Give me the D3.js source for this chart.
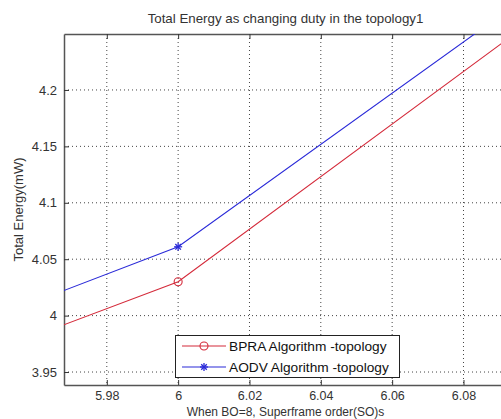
<!DOCTYPE html>
<html><head><meta charset="utf-8">
<script src="https://cdn.jsdelivr.net/npm/d3@7"></script>
<style>
html,body{margin:0;padding:0;background:#fff;}
svg{display:block;font-family:"Liberation Sans",Arial,sans-serif;}
</style></head>
<body>
<svg id="c" width="501" height="419"></svg>
<script>
const so = [5, 6, 7];
const bpra = [2.840, 4.030, 6.360];
const aodv = [2.851, 4.061, 6.330];
const xTicks = [5.98, 6.00, 6.02, 6.04, 6.06, 6.08];
const yTicks = [3.95, 4.00, 4.05, 4.10, 4.15, 4.20];
const seriesNames = ["BPRA Algorithm -topology", "AODV Algorithm -topology"];

const svg = d3.select("#c");
const L = 64, T = 34, R = 507, B = 385;
const x = d3.scaleLinear().domain([5.968, 6.0922]).range([L, R]);
const y = d3.scaleLinear().domain([3.9385, 4.2496]).range([B, T]);
const txt = "#333";

svg.append("rect").attr("x",0).attr("y",0).attr("width",501).attr("height",419).attr("fill","#fff");

svg.append("defs").append("clipPath").attr("id","clip")
  .append("rect").attr("x",L).attr("y",T).attr("width",R-L).attr("height",B-T);

// grid
const g = svg.append("g");
xTicks.forEach(v=>{
  g.append("line").attr("x1",x(v)).attr("x2",x(v)).attr("y1",T).attr("y2",B)
   .attr("stroke","#444").attr("stroke-width",1).attr("stroke-dasharray","1,3");
});
yTicks.forEach(v=>{
  g.append("line").attr("x1",L).attr("x2",R).attr("y1",y(v)).attr("y2",y(v))
   .attr("stroke","#444").attr("stroke-width",1).attr("stroke-dasharray","1,3");
});

// axes
const xa = svg.append("g").attr("transform",`translate(0,${B})`)
  .call(d3.axisBottom(x).tickValues(xTicks).tickSizeInner(-5).tickSizeOuter(0).tickPadding(6)
  .tickFormat(d=>d3.format("")(+d.toFixed(2))));
const xt = svg.append("g").attr("transform",`translate(0,${T})`)
  .call(d3.axisTop(x).tickValues(xTicks).tickSizeInner(-5).tickSizeOuter(0).tickFormat(""));
const ya = svg.append("g").attr("transform",`translate(${L},0)`)
  .call(d3.axisLeft(y).tickValues(yTicks).tickSizeInner(-5).tickSizeOuter(0).tickPadding(7)
  .tickFormat(d=>d3.format("")(+d.toFixed(2))));
[xa,xt,ya].forEach(a=>{
  a.select(".domain").attr("stroke","#555").attr("stroke-width",1.5);
  a.selectAll(".tick line").attr("stroke","#333");
  a.selectAll("text").attr("fill",txt).attr("font-size","13px").attr("font-family","Liberation Sans, Arial, sans-serif");
});
xa.selectAll("text").attr("font-size","12.5px");

// lines
const line = d3.line().x((d,i)=>x(so[i])).y(d=>y(d));
const colors = ["#d42a3a","#2a2ad8"];
const pl = svg.append("g").attr("clip-path","url(#clip)");
[bpra,aodv].forEach((s,k)=>{
  pl.append("path").datum(s).attr("d",line).attr("fill","none")
    .attr("stroke",colors[k]).attr("stroke-width",1.1);
});
function star(sel, cx, cy, r, col){
  const a = sel.append("g").attr("stroke",col).attr("stroke-width",1.3);
  a.append("line").attr("x1",cx-r).attr("x2",cx+r).attr("y1",cy).attr("y2",cy);
  a.append("line").attr("x1",cx).attr("x2",cx).attr("y1",cy-r).attr("y2",cy+r);
  const d=r*0.7;
  a.append("line").attr("x1",cx-d).attr("x2",cx+d).attr("y1",cy-d).attr("y2",cy+d);
  a.append("line").attr("x1",cx-d).attr("x2",cx+d).attr("y1",cy+d).attr("y2",cy-d);
}
so.forEach((v,i)=>{
  pl.append("circle").attr("cx",x(v)).attr("cy",y(bpra[i])).attr("r",4)
    .attr("fill","none").attr("stroke",colors[0]).attr("stroke-width",1.1);
  star(pl, x(v), y(aodv[i]), 4, colors[1]);
});

// title & labels
svg.append("text").attr("x",(L+R)/2).attr("y",23).attr("text-anchor","middle")
  .attr("font-size","13.3px").attr("fill",txt).text("Total Energy as changing duty in the topology1");
svg.append("text").attr("x",(L+R)/2).attr("y",416).attr("text-anchor","middle")
  .attr("font-size","12px").attr("fill",txt).text("When BO=8, Superframe order(SO)s");
svg.append("text").attr("transform",`translate(23,${(T+B)/2}) rotate(-90)`).attr("text-anchor","middle")
  .attr("font-size","13px").attr("fill",txt).text("Total Energy(mW)");

// legend
const lg = svg.append("g");
lg.append("rect").attr("x",175.5).attr("y",335.5).attr("width",224).attr("height",42)
  .attr("fill","#fff").attr("stroke","#222").attr("stroke-width",1);
const rows=[346,367];
rows.forEach((ry,k)=>{
  lg.append("line").attr("x1",182).attr("x2",226).attr("y1",ry).attr("y2",ry)
    .attr("stroke",colors[k]).attr("stroke-width",1.1);
  if(k===0) lg.append("circle").attr("cx",204).attr("cy",ry).attr("r",4).attr("fill","none").attr("stroke",colors[0]).attr("stroke-width",1.1);
  else star(lg,204,ry,4,colors[1]);
  lg.append("text").attr("x",229).attr("y",ry+5).attr("font-size","13.7px").attr("fill","#111").text(seriesNames[k]);
});
</script>
</body></html>
